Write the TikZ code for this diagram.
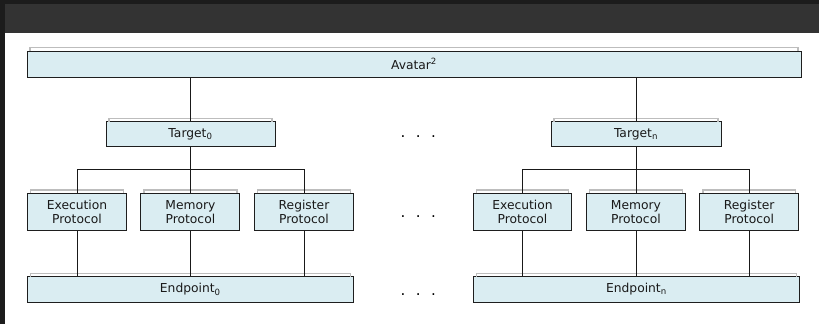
\documentclass[tikz,border=0pt]{standalone}
\usepackage{fontspec}
\setmainfont{DejaVu Sans}
\definecolor{boxfill}{HTML}{DAEDF2}
\definecolor{boxline}{HTML}{1E1E1E}
\definecolor{tabline}{HTML}{BDBDBD}
\definecolor{darkA}{HTML}{1C1C1C}
\definecolor{darkB}{HTML}{333333}
\begin{document}
\begin{tikzpicture}[x=1pt,y=-1pt,
  box/.style={draw=boxline, fill=boxfill, line width=1pt, inner sep=0pt,
    align=center, font=\fontsize{12.3}{14}\selectfont, text=black!90},
  tab/.style={draw=tabline, line width=1.3pt},
  conn/.style={draw=black!90, line width=0.8pt},
  dots/.style={font=\fontsize{15}{15}\selectfont, inner sep=0pt, anchor=base}]
% background
\fill[white] (0,0) rectangle (819,324);
\fill[darkA] (0,0) rectangle (819,4);
\fill[darkA] (0,0) rectangle (5,324);
\fill[darkB] (5,4) rectangle (819,33);
\useasboundingbox (0,0) rectangle (819,324);
% nodes
\node[box, minimum width=774, minimum height=26] (av) at (414,64) {Avatar\textsuperscript{2}};
\node[box, minimum width=169, minimum height=25] (t0) at (190.5,134.2) {Target\textsubscript{0}};
\node[box, minimum width=170, minimum height=25] (tn) at (636,134.2) {Target\textsubscript{n}};
\node[box, minimum width=99, minimum height=37.4] (e0) at (77,212) {Execution\\Protocol};
\node[box, minimum width=99, minimum height=37.4] (m0) at (190.4,212) {Memory\\Protocol};
\node[box, minimum width=99, minimum height=37.4] (r0) at (304,212) {Register\\Protocol};
\node[box, minimum width=98.5, minimum height=37.4] (en) at (522.5,212) {Execution\\Protocol};
\node[box, minimum width=98.5, minimum height=37.4] (mn) at (635.9,212) {Memory\\Protocol};
\node[box, minimum width=98.5, minimum height=37.4] (rn) at (749.2,212) {Register\\Protocol};
\node[box, minimum width=326, minimum height=25.6] (p0) at (190.3,289.5) {Endpoint\textsubscript{0}};
\node[box, minimum width=326, minimum height=25.6] (pn) at (636.4,289.5) {Endpoint\textsubscript{n}};
% tabs
\foreach \n in {av,t0,tn,e0,m0,r0,en,mn,rn,p0,pn}{
  \draw[tab] ([xshift=3.5pt,yshift=-0.5pt]\n.north west) -- ++(0,-3.2) -| ([xshift=-3.5pt,yshift=-0.5pt]\n.north east);
}
% dots
\node[dots] (d1) at (418.3,137.2) {.\hspace{10.5pt}.\hspace{10.5pt}.};
\node[dots] (d2) at (418.3,217.2) {.\hspace{10.5pt}.\hspace{10.5pt}.};
\node[dots] (d3) at (418.3,295.2) {.\hspace{10.5pt}.\hspace{10.5pt}.};
% connectors
\coordinate (b0) at (190.5,169.3);
\coordinate (bn) at (636,169.3);
\draw[conn] (av.south -| t0.north) -- (t0.north);
\draw[conn] (av.south -| tn.north) -- (tn.north);
\draw[conn] (t0.south) -- (t0.south |- m0.north);
\draw[conn] (e0.north) |- (b0) -| (r0.north);
\draw[conn] (tn.south) -- (tn.south |- mn.north);
\draw[conn] (en.north) |- (bn) -| (rn.north);
\foreach \n/\p in {e0/p0,m0/p0,r0/p0,en/pn,mn/pn,rn/pn}{
  \draw[conn] (\n.south) -- (\n.south |- \p.north);
}
\end{tikzpicture}
\end{document}
